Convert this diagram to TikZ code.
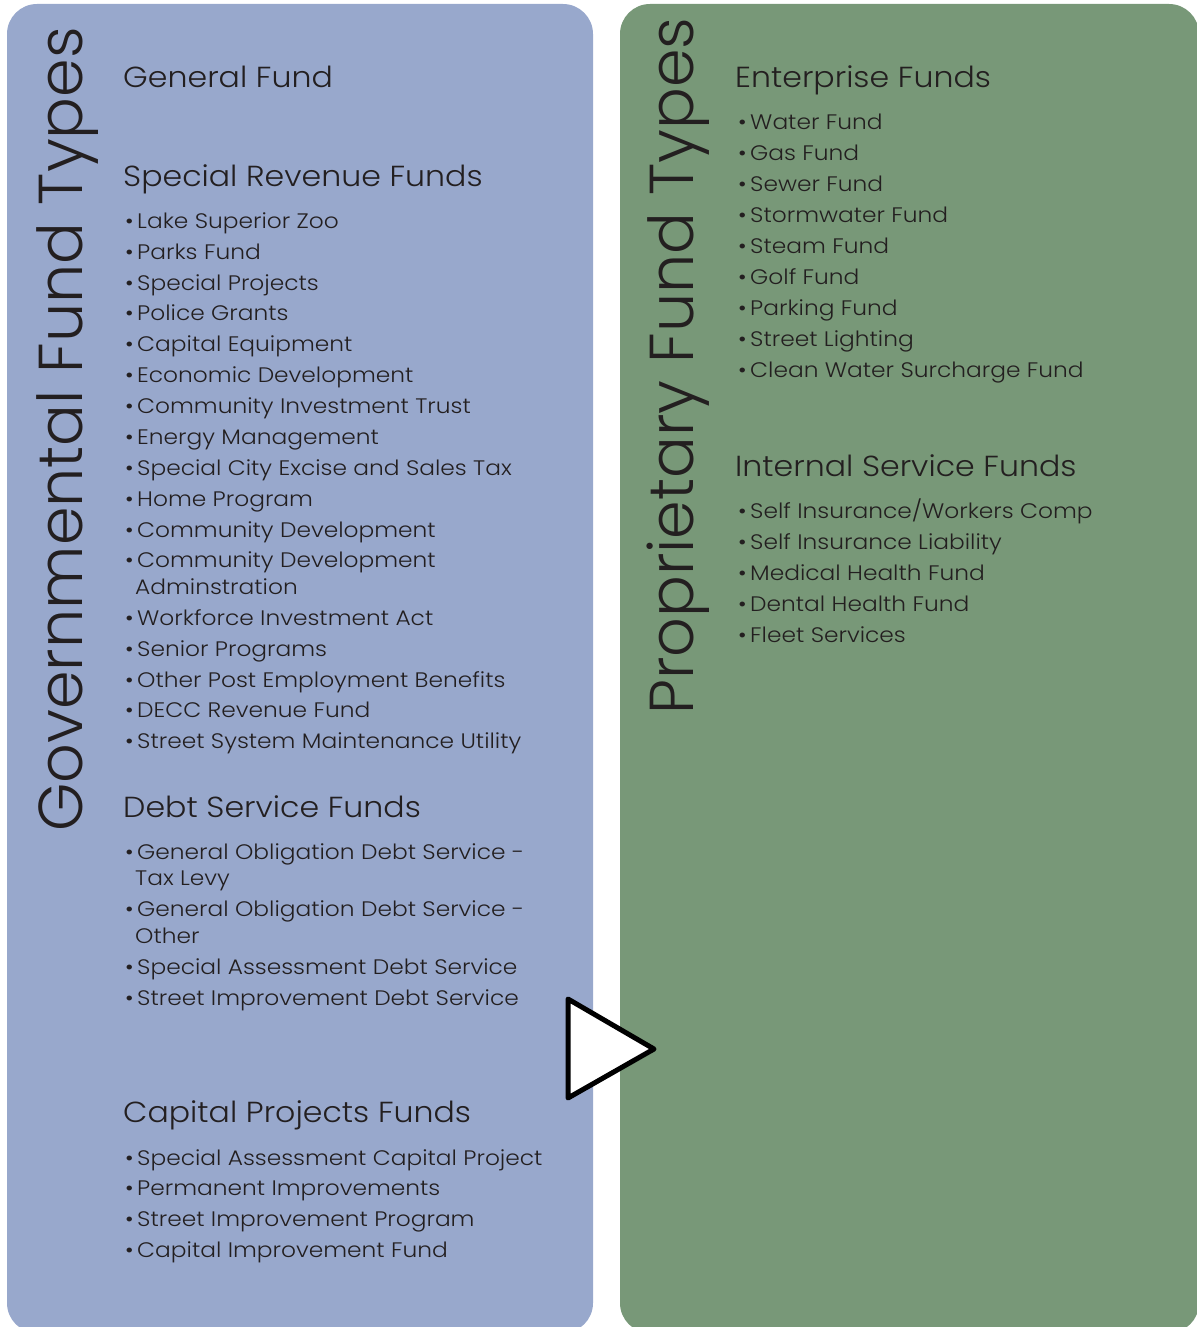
\documentclass[tikz,border=0pt]{standalone}
\usepackage{fontspec}
\setmainfont{Poppins}[UprightFont=* Light]
\newfontfamily\headface{Poppins}[UprightFont=* Light,FakeStretch=1.09]
\newfontfamily\itemface{Poppins}[UprightFont=* Light,FakeStretch=1.11]
\usepackage{tikz}

\definecolor{govblue}{RGB}{152,168,204}
\definecolor{propgreen}{RGB}{120,152,120}
\definecolor{inkgray}{RGB}{35,31,32}

\newcommand{\titlefont}{\fontsize{62}{70}\selectfont}
\newcommand{\headfont}{\headface\fontsize{29}{34}\selectfont}
\newcommand{\itemfont}{\itemface\fontsize{21}{25}\selectfont}

\begin{document}
\begin{tikzpicture}[x=1pt,y=-1pt]
\tikzstyle{every node}=[inner sep=0pt,text=inkgray];
\tikzstyle{title}=[anchor=base west,rotate=90,font=\titlefont];
\tikzstyle{head}=[anchor=base west,font=\headfont];
\tikzstyle{item}=[anchor=base west,font=\itemfont];
\useasboundingbox (0,0) rectangle (1196,1327);
% panels
    \fill[govblue,rounded corners=30pt] (7,4) rectangle (593,1333);
    \fill[propgreen,rounded corners=30pt] (620,4) rectangle (1199,1333);
% titles
    \node[title] (gov) at (82,832) {Governmental Fund Types};
    \node[title] (prop) at (693,715) {Proprietary Fund Types};
% governmental funds
    \node[head] (gf) at (123,88) {General Fund};
    \node[head] (srf) at (123,186) {Special Revenue Funds};
    \node[item] (s1) at (125,228) {•\,Lake Superior Zoo};
    \node[item] (s2) at (125,259) {•\,Parks Fund};
    \node[item] (s3) at (125,290) {•\,Special Projects};
    \node[item] (s4) at (125,320) {•\,Police Grants};
    \node[item] (s5) at (125,351) {•\,Capital Equipment};
    \node[item] (s6) at (125,382) {•\,Economic Development};
    \node[item] (s7) at (125,413) {•\,Community Investment Trust};
    \node[item] (s8) at (125,444) {•\,Energy Management};
    \node[item] (s9) at (125,475) {•\,Special City Excise and Sales Tax};
    \node[item] (s10) at (125,506) {•\,Home Program};
    \node[item] (s11) at (125,537) {•\,Community Development};
    \node[item] (s12) at (125,567) {•\,Community Development};
    \node[item] (s12b) at (135,594) {Adminstration};
    \node[item] (s13) at (125,625) {•\,Workforce Investment Act};
    \node[item] (s14) at (125,656) {•\,Senior Programs};
    \node[item] (s15) at (125,687) {•\,Other Post Employment Benefits};
    \node[item] (s16) at (125,717) {•\,DECC Revenue Fund};
    \node[item] (s17) at (125,748) {•\,Street System Maintenance Utility};
    \node[head] (dsf) at (123,817) {Debt Service Funds};
    \node[item] (d1) at (125,859) {•\,General Obligation Debt Service -};
    \node[item] (d1b) at (135,885) {Tax Levy};
    \node[item] (d2) at (125,916) {•\,General Obligation Debt Service -};
    \node[item] (d2b) at (135,943) {Other};
    \node[item] (d3) at (125,974) {•\,Special Assessment Debt Service};
    \node[item] (d4) at (125,1005) {•\,Street Improvement Debt Service};
    \node[head] (cpf) at (123,1122) {Capital Projects Funds};
    \node[item] (c1) at (125,1165) {•\,Special Assessment Capital Project};
    \node[item] (c2) at (125,1195) {•\,Permanent Improvements};
    \node[item] (c3) at (125,1226) {•\,Street Improvement Program};
    \node[item] (c4) at (125,1257) {•\,Capital Improvement Fund};
% proprietary funds
    \node[head] (ef) at (735,88) {Enterprise Funds};
    \node[item] (e1) at (738,129) {•\,Water Fund};
    \node[item] (e2) at (738,160) {•\,Gas Fund};
    \node[item] (e3) at (738,191) {•\,Sewer Fund};
    \node[item] (e4) at (738,222) {•\,Stormwater Fund};
    \node[item] (e5) at (738,253) {•\,Steam Fund};
    \node[item] (e6) at (738,284) {•\,Golf Fund};
    \node[item] (e7) at (738,315) {•\,Parking Fund};
    \node[item] (e8) at (738,346) {•\,Street Lighting};
    \node[item] (e9) at (738,377) {•\,Clean Water Surcharge Fund};
    \node[head] (isf) at (735,476) {Internal Service Funds};
    \node[item] (i1) at (738,518) {•\,Self Insurance/Workers Comp};
    \node[item] (i2) at (738,549) {•\,Self Insurance Liability};
    \node[item] (i3) at (738,580) {•\,Medical Health Fund};
    \node[item] (i4) at (738,611) {•\,Dental Health Fund};
    \node[item] (i5) at (738,642) {•\,Fleet Services};
% arrow
    \draw[line width=5pt,fill=white,line join=round] (568,999) -- (568,1098) -- (654,1049) -- cycle;
\end{tikzpicture}
\end{document}
